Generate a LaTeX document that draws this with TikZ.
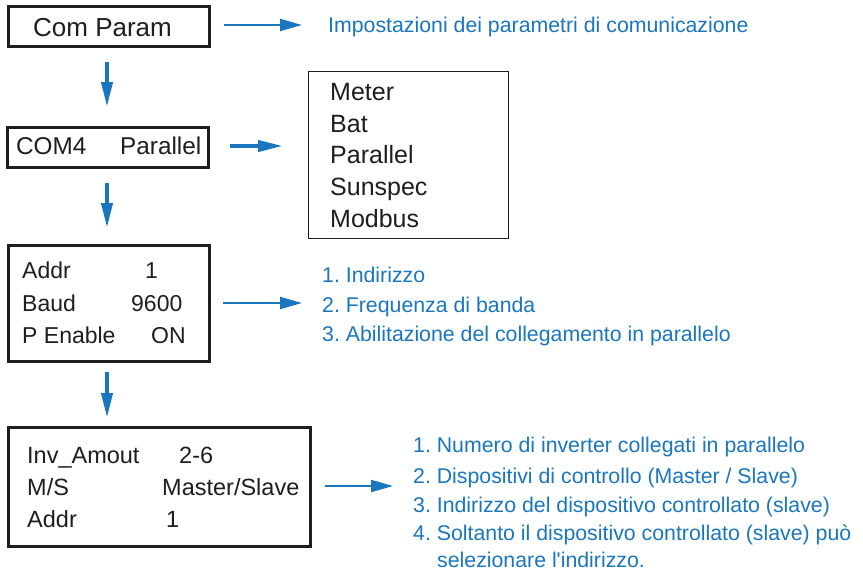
\documentclass[tikz,border=0pt]{standalone}
\usepackage{fontspec}
\setmainfont{Liberation Sans}
\usetikzlibrary{arrows.meta}
\definecolor{ublue}{RGB}{26,118,190}
\definecolor{ublack}{RGB}{30,30,30}
\frenchspacing
\begin{document}
\begin{tikzpicture}[x=1pt,y=-1pt,
  box/.style={draw=ublack,line width=2.5pt,anchor=north west,inner sep=0pt},
  thinbox/.style={draw=ublack,line width=1.4pt,anchor=north west,inner sep=0pt},
  txt/.style={anchor=base west,inner sep=0pt,text=ublack,font=\fontsize{23.5}{28}\selectfont},
  midtxt/.style={txt,font=\fontsize{23}{28}\selectfont},
  bigtxt/.style={txt,font=\fontsize{25}{30}\selectfont},
  btxt/.style={anchor=base west,inner sep=0pt,text=ublue,font=\fontsize{21.3}{26}\selectfont},
  thinarrow/.style={draw=ublue,line width=2pt,-{Triangle[length=22pt,width=12pt]}},
  thickarrow/.style={draw=ublue,line width=4pt,-{Triangle[length=25pt,width=11pt]}}]
\useasboundingbox[fill=white] (0,0) rectangle (863,570);

% boxes
\node[box,minimum width=201pt,minimum height=40pt] (b1) at (7,5) {};
\node[box,minimum width=201pt,minimum height=40pt] (b2) at (6,126) {};
\node[thinbox,minimum width=200pt,minimum height=167pt] (bm) at (308,71) {};
\node[box,minimum width=201pt,minimum height=116pt] (b3) at (7,244) {};
\node[box,minimum width=302pt,minimum height=119pt] (b4) at (7,426) {};

% box texts
\node[bigtxt,font=\fontsize{26}{30}\selectfont] (t1) at (33,36) {Com Param};
\node[bigtxt,font=\fontsize{24.3}{30}\selectfont] (t2a) at (16,154) {COM4};
\node[bigtxt,font=\fontsize{24.3}{30}\selectfont] (t2b) at (120,154) {Parallel};

\node[bigtxt] (m1) at (330,100) {Meter};
\node[bigtxt] (m2) at (330,132) {Bat};
\node[bigtxt] (m3) at (330,163) {Parallel};
\node[bigtxt] (m4) at (330,195) {Sunspec};
\node[bigtxt] (m5) at (330,227) {Modbus};

\node[midtxt] (p1) at (22,278) {Addr};
\node[midtxt] (p2) at (22,311) {Baud};
\node[midtxt] (p3) at (22,343) {P Enable};
\node[midtxt] (v1) at (145,278) {1};
\node[midtxt] (v2) at (131,311) {9600};
\node[midtxt] (v3) at (151,343) {ON};

\node[txt] (q1) at (27,463) {Inv\_Amout};
\node[txt] (q2) at (27,495) {M/S};
\node[txt] (q3) at (27,527) {Addr};
\node[txt] (w1) at (179,463) {2-6};
\node[txt] (w2) at (162,495) {Master/Slave};
\node[txt] (w3) at (166,527) {1};

% blue texts
\node[btxt] (d0) at (328,32) {Impostazioni dei parametri di comunicazione};
\node[btxt] (l1) at (322,282) {1. Indirizzo};
\node[btxt] (l2) at (322,312) {2. Frequenza di banda};
\node[btxt] (l3) at (322,341) {3. Abilitazione del collegamento in parallelo};
\node[btxt] (k1) at (413,452) {1. Numero di inverter collegati in parallelo};
\node[btxt] (k2) at (413,483) {2. Dispositivi di controllo (Master / Slave)};
\node[btxt] (k3) at (413,512) {3. Indirizzo del dispositivo controllato (slave)};
\node[btxt] (k4) at (413,540) {4. Soltanto il dispositivo controllato (slave) può};
\node[btxt] (k5) at (437,567) {selezionare l\textquotesingle indirizzo.};

% arrow end points
\coordinate (a1s) at (224,25);  \coordinate (a1e) at (302,25);
\coordinate (d1s) at (107,62);  \coordinate (d1e) at (107,107);
\coordinate (a2s) at (230,146); \coordinate (a2e) at (283,146);
\coordinate (d2s) at (107,183); \coordinate (d2e) at (107,228);
\coordinate (a3s) at (223,303); \coordinate (a3e) at (302,303);
\coordinate (d3s) at (107,372); \coordinate (d3e) at (107,418);
\coordinate (a4s) at (325,486); \coordinate (a4e) at (393,486);

\draw[thinarrow] (a1s) -- (a1e);
\draw[thickarrow] (d1s) -- (d1e);
\draw[thickarrow] (a2s) -- (a2e);
\draw[thickarrow] (d2s) -- (d2e);
\draw[thinarrow] (a3s) -- (a3e);
\draw[thickarrow] (d3s) -- (d3e);
\draw[thinarrow] (a4s) -- (a4e);
\end{tikzpicture}
\end{document}
